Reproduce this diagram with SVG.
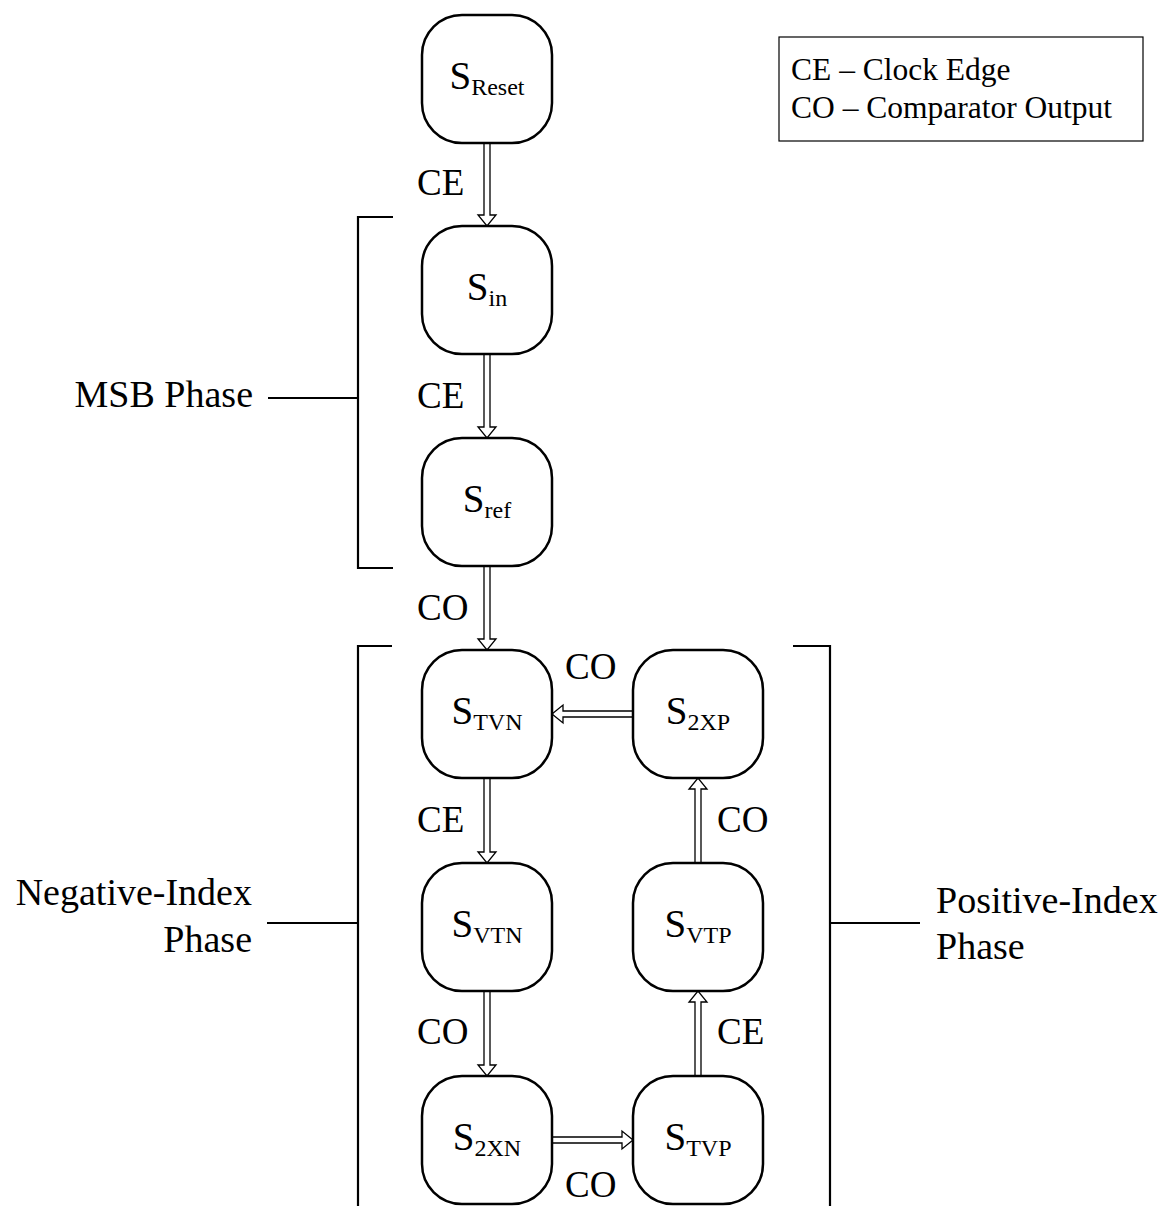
<svg xmlns="http://www.w3.org/2000/svg" width="1176" height="1206" viewBox="0 0 1176 1206">
<style>
text{font-family:"Liberation Serif","Times New Roman",serif;fill:#000}
.node rect{fill:#fff;stroke:#000;stroke-width:2.5}
.nl{font-size:39px;text-anchor:middle}
.sub{font-size:24px}
.el{font-size:37px}
.ph{font-size:38px}
.lg{font-size:31.5px}
.arr{fill:#fff;stroke:#000;stroke-width:1.3;stroke-linejoin:miter}
.br{fill:none;stroke:#000;stroke-width:2.2}
</style>
<rect width="1176" height="1206" fill="#fff"/>

<g id="legend">
<rect x="779" y="37" width="364" height="104" fill="#fff" stroke="#000" stroke-width="1.2"/>
<text class="lg" x="791" y="80">CE – Clock Edge</text>
<text class="lg" x="791" y="118">CO – Comparator Output</text>
</g>

<g id="brackets">
<path class="br" d="M393,217 H358 V568 H393"/>
<path class="br" d="M268,398 H358"/>
<path class="br" d="M392,646 H358 V1206"/>
<path class="br" d="M267,923 H358"/>
<path class="br" d="M793,646 H830 V1206"/>
<path class="br" d="M830,923 H920"/>
<text class="ph" x="253" y="407" text-anchor="end">MSB Phase</text>
<text class="ph" x="252" y="905" text-anchor="end">Negative-Index</text>
<text class="ph" x="252" y="952" text-anchor="end">Phase</text>
<text class="ph" x="936" y="913">Positive-Index</text>
<text class="ph" x="936" y="959">Phase</text>
</g>

<g id="connectors">
<path class="arr" d="M484,143 V215 H478 L487,226 L496,215 H490 V143"/>
<path class="arr" d="M484,354 V427 H478 L487,438 L496,427 H490 V354"/>
<path class="arr" d="M484,566 V639 H478 L487,650 L496,639 H490 V566"/>
<path class="arr" d="M484,778 V852 H478 L487,863 L496,852 H490 V778"/>
<path class="arr" d="M484,991 V1065 H478 L487,1076 L496,1065 H490 V991"/>
<path class="arr" d="M552,1137 H622 V1131 L633,1140 L622,1149 V1143 H552"/>
<path class="arr" d="M695,1076 V1002 H689 L698,991 L707,1002 H701 V1076"/>
<path class="arr" d="M695,863 V789 H689 L698,778 L707,789 H701 V863"/>
<path class="arr" d="M633,711 H563 V705 L552,714 L563,723 V717 H633"/>
<text class="el" x="417" y="195">CE</text>
<text class="el" x="417" y="408">CE</text>
<text class="el" x="417" y="620">CO</text>
<text class="el" x="565" y="679">CO</text>
<text class="el" x="417" y="832">CE</text>
<text class="el" x="717" y="832">CO</text>
<text class="el" x="417" y="1044">CO</text>
<text class="el" x="717" y="1044">CE</text>
<text class="el" x="565" y="1197">CO</text>
</g>

<g id="S_Reset" class="node"><rect x="422" y="15" width="130" height="128" rx="40"/><text class="nl" x="487" y="89">S<tspan class="sub" dy="6">Reset</tspan></text></g>
<g id="S_in" class="node"><rect x="422" y="226" width="130" height="128" rx="40"/><text class="nl" x="487" y="300">S<tspan class="sub" dy="6">in</tspan></text></g>
<g id="S_ref" class="node"><rect x="422" y="438" width="130" height="128" rx="40"/><text class="nl" x="487" y="512">S<tspan class="sub" dy="6">ref</tspan></text></g>
<g id="S_TVN" class="node"><rect x="422" y="650" width="130" height="128" rx="40"/><text class="nl" x="487" y="724">S<tspan class="sub" dy="6">TVN</tspan></text></g>
<g id="S_VTN" class="node"><rect x="422" y="863" width="130" height="128" rx="40"/><text class="nl" x="487" y="937">S<tspan class="sub" dy="6">VTN</tspan></text></g>
<g id="S_2XN" class="node"><rect x="422" y="1076" width="130" height="128" rx="40"/><text class="nl" x="487" y="1150">S<tspan class="sub" dy="6">2XN</tspan></text></g>
<g id="S_2XP" class="node"><rect x="633" y="650" width="130" height="128" rx="40"/><text class="nl" x="698" y="724">S<tspan class="sub" dy="6">2XP</tspan></text></g>
<g id="S_VTP" class="node"><rect x="633" y="863" width="130" height="128" rx="40"/><text class="nl" x="698" y="937">S<tspan class="sub" dy="6">VTP</tspan></text></g>
<g id="S_TVP" class="node"><rect x="633" y="1076" width="130" height="128" rx="40"/><text class="nl" x="698" y="1150">S<tspan class="sub" dy="6">TVP</tspan></text></g>
</svg>
